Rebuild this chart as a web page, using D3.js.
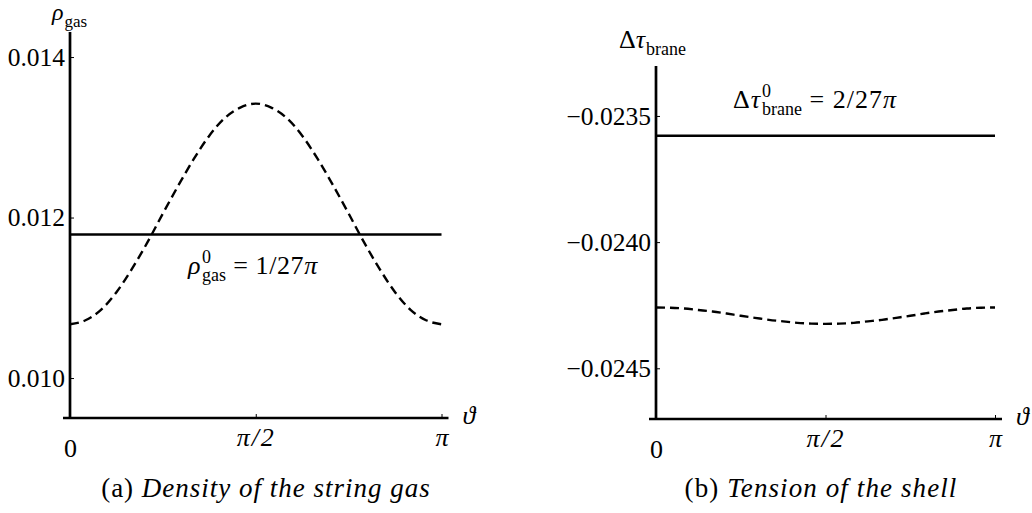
<!DOCTYPE html>
<html>
<head>
<meta charset="utf-8">
<script src="https://cdn.jsdelivr.net/npm/d3@7"></script>
<style>
  body { margin: 0; background: #fff; }
  svg { display: block; }
  text { font-family: "Liberation Serif", "DejaVu Serif", serif; fill: #000; }
</style>
</head>
<body>
<svg id="chart" width="1032" height="513"></svg>
<script>
const SERIF = '"Liberation Serif", "DejaVu Serif", serif'

// angle samples (degrees, 0..180 = 0..pi)
const THETA_DEG = [0, 7.5, 15, 22.5, 30, 37.5, 45, 52.5, 60, 67.5, 75, 82.5, 90,
                   97.5, 105, 112.5, 120, 127.5, 135, 142.5, 150, 157.5, 165, 172.5, 180]
const THETA_TICKS = [0, 90, 180]
const THETA_TICK_LABELS = ['0', 'π/2', 'π']

// (a) density of the string gas
const RHO_GAS = [0.01067, 0.01072, 0.01085, 0.01107, 0.01136, 0.01169, 0.01205, 0.01240, 0.01273,
                 0.01302, 0.01324, 0.01337, 0.01342, 0.01337, 0.01324, 0.01302, 0.01273, 0.01240,
                 0.01205, 0.01169, 0.01136, 0.01107, 0.01085, 0.01072, 0.01067]
const RHO_GAS_0 = 0.011789
const RHO_TICKS = [0.010, 0.012, 0.014]
const RHO_EXTENT = [0.009502, 0.014312]

// (b) tension of the shell
const TAU_BRANE = [-0.024259, -0.024260, -0.024263, -0.024269, -0.024275, -0.024283, -0.024292,
                   -0.024300, -0.024308, -0.024314, -0.024320, -0.024323, -0.024324, -0.024323,
                   -0.024320, -0.024314, -0.024308, -0.024300, -0.024292, -0.024283, -0.024275,
                   -0.024269, -0.024263, -0.024260, -0.024259]
const TAU_BRANE_0 = -0.023578
const TAU_TICKS = [-0.0245, -0.0240, -0.0235]
const TAU_EXTENT = [-0.024701, -0.023302]

const svg = d3.select('#chart')

/**
 * Draws a math-like label: parts = [{t, i, sup, sub}]
 */
function mathText (g, x, y, parts, opts) {
  opts = opts || {}
  const size = opts.size || 26
  const small = opts.small || 18
  const spacing = opts.spacing || 0
  let grp = g.append('g')
  let cx = 0
  parts.forEach(p => {
    let t = grp.append('text').attr('x', cx).attr('y', 0)
      .attr('font-family', SERIF).attr('font-size', size)
      .attr('font-style', p.i ? 'italic' : 'normal')
      .attr('letter-spacing', spacing)
      .style('white-space', 'pre').text(p.t)
    cx += t.node().getComputedTextLength()
    let w = 0
    if (p.sup) {
      let s = grp.append('text').attr('x', cx + 1).attr('y', -11)
        .attr('font-family', SERIF).attr('font-size', small).text(p.sup)
      w = Math.max(w, s.node().getComputedTextLength() + 1)
    }
    if (p.sub) {
      let s = grp.append('text').attr('x', cx + 1).attr('y', 7)
        .attr('font-family', SERIF).attr('font-size', small).text(p.sub)
      w = Math.max(w, s.node().getComputedTextLength() + 1)
    }
    cx += w
  })
  let dx = opts.anchor === 'middle' ? -cx / 2 : 0
  grp.attr('transform', 'translate(' + (x + dx) + ',' + y + ')')
  return grp
}

function drawPanel (cfg) {
  const x = d3.scaleLinear().domain([0, 180]).range([cfg.x0, cfg.x1])
  const y = d3.scaleLinear().domain(cfg.extent).range([cfg.yBottom, cfg.yTop])
  const g = svg.append('g')

  // y axis ticks + labels
  const yAxis = d3.axisLeft(y).tickValues(cfg.ticks).tickFormat(d3.format(cfg.fmt))
    .tickSizeInner(-4).tickSizeOuter(0).tickPadding(5)
  const ya = g.append('g').attr('transform', 'translate(' + cfg.x0 + ',0)').call(yAxis)
    .attr('font-family', SERIF)
  ya.select('.domain').remove()
  ya.selectAll('line').attr('stroke', '#000').attr('stroke-width', 1)
  ya.selectAll('text').attr('font-size', 25.5).attr('font-family', SERIF).attr('dy', '0.33em')

  // x axis ticks + labels
  const xAxis = d3.axisBottom(x).tickValues(THETA_TICKS)
    .tickFormat((d, i) => THETA_TICK_LABELS[i]).tickSizeInner(-4).tickSizeOuter(0)
  const xa = g.append('g').attr('transform', 'translate(0,' + cfg.yBottom + ')').call(xAxis)
    .attr('font-family', SERIF)
  xa.select('.domain').remove()
  xa.selectAll('line').attr('stroke', '#000').attr('stroke-width', 1)
  xa.selectAll('text').attr('font-size', 26).attr('font-family', SERIF)
    .attr('y', (d, i) => i === 0 ? 39 : 28).attr('dy', null)
    .attr('letter-spacing', (d, i) => i === 1 ? 2 : 0)
    .attr('font-style', (d, i) => i === 0 ? 'normal' : 'italic')

  // axis lines
  g.append('line')
    .attr('x1', x(0)).attr('x2', x(0))
    .attr('y1', y(cfg.extent[0]) + 1).attr('y2', y(cfg.extent[1]))
    .attr('stroke', '#000').attr('stroke-width', 2.7)
  g.append('line')
    .attr('x1', x(0) - 7).attr('x2', x(180) + 7)
    .attr('y1', y(cfg.extent[0])).attr('y2', y(cfg.extent[0]))
    .attr('stroke', '#000').attr('stroke-width', 2.7)

  // reference value (solid)
  g.append('line')
    .attr('x1', x(0)).attr('x2', x(180))
    .attr('y1', y(cfg.ref)).attr('y2', y(cfg.ref))
    .attr('stroke', '#000').attr('stroke-width', 2.5)

  // curve (dashed)
  const line = d3.line().x((d, i) => x(THETA_DEG[i])).y(d => y(d)).curve(d3.curveMonotoneX)
  g.append('path').datum(cfg.values)
    .attr('d', line).attr('fill', 'none')
    .attr('stroke', '#000').attr('stroke-width', 2.4).attr('stroke-dasharray', '9,5')

  // theta label
  g.append('text').attr('x', x(180) + 21).attr('y', cfg.yBottom + 6)
    .attr('font-family', SERIF).attr('font-size', 26).attr('font-style', 'italic').text('ϑ')

  return g
}

// Panel (a)
const ga = drawPanel({ x0: 70, x1: 441.5, yTop: 32, yBottom: 418, extent: RHO_EXTENT,
  ticks: RHO_TICKS, fmt: '.3f', ref: RHO_GAS_0, values: RHO_GAS })
mathText(ga, 52, 20, [{ t: 'ρ', i: true, sub: 'gas' }], { size: 24, small: 17 })
mathText(ga, 188, 274, [{ t: 'ρ', i: true, sup: '0', sub: 'gas' }, { t: ' = 1/27' }, { t: 'π', i: true }],
  { spacing: 0.6 })
mathText(ga, 266, 497, [{ t: '(a) ' }, { t: 'Density of the string gas', i: true }],
  { size: 27, spacing: 1, anchor: 'middle' })

// Panel (b)
const gb = drawPanel({ x0: 656, x1: 995, yTop: 66, yBottom: 419, extent: TAU_EXTENT,
  ticks: TAU_TICKS, fmt: '.4f', ref: TAU_BRANE_0, values: TAU_BRANE })
mathText(gb, 619, 48, [{ t: 'Δ' }, { t: 'τ', i: true, sub: 'brane' }])
mathText(gb, 733, 108, [{ t: 'Δ' }, { t: 'τ', i: true, sup: '0', sub: 'brane' }, { t: ' = 2/27' }, { t: 'π', i: true }],
  { spacing: 1 })
mathText(gb, 821, 497, [{ t: '(b) ' }, { t: 'Tension of the shell', i: true }],
  { size: 27, spacing: 1.1, anchor: 'middle' })
</script>
</body>
</html>
